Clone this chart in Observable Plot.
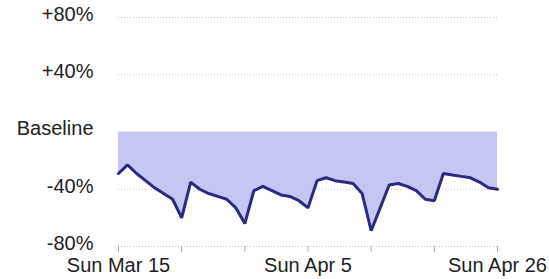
<!DOCTYPE html>
<html>
<head>
<meta charset="utf-8">
<script src="https://cdn.jsdelivr.net/npm/d3@7"></script>
<script src="https://cdn.jsdelivr.net/npm/@observablehq/plot@0.6"></script>
<style>
  html, body { margin: 0; padding: 0; background: #fff; }
  #chart svg { display: block; }
</style>
</head>
<body>
<div id="chart"></div>
<script>
const startDate = "2020-03-15";
const endDate = "2020-04-26";
const values = [
  -29, -23, -29, -34, -39, -43, -47, -60,
  -35, -40, -43, -45, -47, -53, -64,
  -41, -38, -41, -44, -45, -48, -53,
  -34, -32, -34, -35, -36, -43, -69,
  -53, -37, -36, -38, -41, -47, -48,
  -29, -30, -31, -32, -35, -39, -40
];
const yTicks = [-80, -40, 0, 40, 80];
const yTickLabels = ["-80%", "-40%", "Baseline", "+40%", "+80%"];
const xLabelDates = ["2020-03-15", "2020-04-05", "2020-04-26"];

const dates = d3.utcDay.range(new Date(startDate), d3.utcDay.offset(new Date(endDate), 1));
const data = dates.map((d, i) => ({date: d, value: values[i]}));
const weekTicks = d3.utcWeek.range(new Date(startDate), d3.utcDay.offset(new Date(endDate), 1));
const labelSet = new Set(xLabelDates.map(s => +new Date(s)));
const fmt = d3.utcFormat("%a %b %-d");

const chart = Plot.plot({
  width: 549,
  height: 279,
  marginLeft: 118,
  marginRight: 52,
  marginTop: 17,
  marginBottom: 33,
  style: {fontFamily: "Liberation Sans, Arial, sans-serif", fontSize: "20px", color: "#222", background: "#fff"},
  x: {type: "utc", domain: [new Date(startDate), new Date(endDate)], label: null},
  y: {domain: [-80, 80], label: null},
  marks: [
    Plot.ruleY(yTicks.filter(v => v !== 0), {stroke: "#c4c4c4", strokeDasharray: "1,2", strokeWidth: 1}),
    Plot.areaY(data, {x: "date", y1: 0, y2: "value", fill: "#c6c6f5"}),
    Plot.lineY(data, {x: "date", y: "value", stroke: "#2b2a7e", strokeWidth: 3, strokeLinejoin: "miter"}),
    Plot.axisY({ticks: yTicks, tickSize: 0, tickPadding: 25, dy: -3, label: null, tickFormat: v => yTickLabels[yTicks.indexOf(v)], fontSize: 20, fill: "#222"}),
    Plot.axisX({ticks: weekTicks, tickSize: 6, tickPadding: 5, label: null, stroke: "#b0b0b0", tickFormat: d => labelSet.has(+d) ? fmt(d) : "", fontSize: 20, fill: "#222"})
  ]
});
document.getElementById("chart").appendChild(chart);
</script>
</body>
</html>
